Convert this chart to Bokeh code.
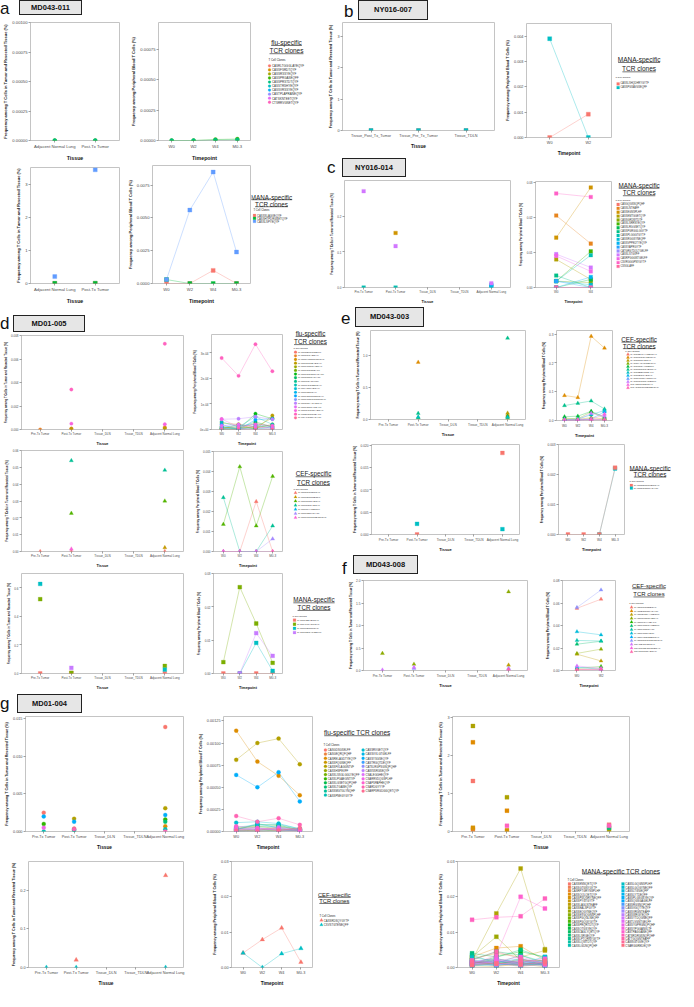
import math
from bokeh.plotting import figure
from bokeh.models import Range1d, FixedTicker, Div, Spacer
from bokeh.layouts import row, column
from bokeh.embed import file_html
from bokeh.resources import INLINE
from bokeh.core.properties import value

N = None
FONT = "Liberation Sans"

# ---------------- categories ----------------
timepoints = ["W0", "W2", "W4", "M0-3"]
timepoints_b = ["W0", "W2"]
timepoints_c = ["W0", "W4"]
timepoints_f = ["W0", "W2"]
tissues_a = ["Adjacent Normal Lung", "Post-Tx Tumor"]
tissues_b = ["Tissue_Post_Tx_Tumor", "Tissue_Pre_Tx_Tumor", "Tissue_TDLN"]
tissues_all = ["Pre-Tx Tumor", "Post-Tx Tumor", "Tissue_DLN", "Tissue_TDLN", "Adjacent Normal Lung"]

TISSUE_YLABEL = "Frequency among T Cells in Tumor and Resected Tissue (%)"
TIME_YLABEL = "Frequency among Peripheral Blood T Cells (%)"

# ---------------- a: MD043-011 ----------------
a_flu_clones = ["CASRLTGGGLAYEQYF", "CASSFSRDTQYF", "CASSRSSYEQYF", "CASSPRGASEQFF", "CASSPRSTDTQYF",
                "CASSTRSHYEQYF", "CASSVRSSYEQYF", "CASTPLAPRANEQYF", "CATSKNTEETQYF", "CTSRRVGNETQYF"]
a_flu_tissue = [N, N, N, [0.0, 0.0], [0.0, 0.0], N, N, N, N, N]
a_flu_time = [N, N, N, [0.0, 0.0, 0.000008, 0.000012], [0.0, 0.0, 0.000004, 0.000006], N, N, N, N, N]
a_mana_clones = ["CASSSLAGVEQYF", "CASSHTPDRGSETQYF", "CASSLSPYEQYF"]
a_mana_tissue = [[0.0, 0.0], [0.005, 0.01], [0.21, 3.45]]
a_mana_time = [[0.0, 0.0, 0.001, 0.0], [0.0003, 0.0, 0.0, 0.0], [0.0003, 0.0056, 0.0085, 0.0024]]
a1_ymax = 0.001
a1_yticks = [0.0, 0.00025, 0.0005, 0.00075, 0.001]
a1_ylabels = ["0.00000", "0.00025", "0.00050", "0.00075", "0.00100"]
a2_ymax = 0.00097
a2_yticks = [0.0, 0.00025, 0.0005, 0.00075]
a2_ylabels = ["0.00000", "0.00025", "0.00050", "0.00075"]
a3_ymax = 3.52
a3_yticks = [0, 1, 2, 3]
a3_ylabels = ["0", "1", "2", "3"]
a4_ymax = 0.009
a4_yticks = [0.0, 0.0025, 0.005, 0.0075]
a4_ylabels = ["0.0000", "0.0025", "0.0050", "0.0075"]

# ---------------- b: NY016-007 ----------------
b_mana_clones = ["CASSLSHQDHRYGYTF", "CASSPGSAVGSEQFF"]
b_mana_tissue = [[0.0, 0.0, 0.0], [0.0, 0.0, 0.0]]
b_mana_time = [[0.0, 0.00092], [0.0039, 0.0]]
b1_ymax = 3.45
b1_yticks = [0, 1, 2, 3]
b1_ylabels = ["0", "1", "2", "3"]
b2_ymax = 0.0045
b2_yticks = [0.0, 0.001, 0.002, 0.003, 0.004]
b2_ylabels = ["0.000", "0.001", "0.002", "0.003", "0.004"]

# ---------------- c: NY016-014 ----------------
c_mana_clones = ["CASGQGSNQPQHF", "CASSLNTEAFF", "CASSEGNSPLHF", "CASSEMTGGETQYF", "CASSGRDWTDTF",
                 "CASSLSRRNYEQYF", "CASSLRGGSETQYF", "CASSPGRGGLGGYTF", "CASSPLGGGTGYTF", "CASSRGGSYNEQFF",
                 "CASSVPPEDTYEQYF", "CASSYAPRGYTF", "CATGRGTDQLTGELFF", "CASSLSTGVFF", "CASRPGGGNTGELFF",
                 "CSVRGGGPNYGYTF", "CSSGLAFF"]
c_mana_tissue = [N, N, [N, 0.153, N, N, N], N, N, N, N, N, [0.0, 0.0, N, N, 0.005], [N, N, N, N, 0.002],
                 [N, N, N, N, 0.008], N, N, [0.27, 0.116, N, N, 0.012], N, N, N]
c_mana_time = [[0.0, 0.0], [0.0205, 0.0125], [0.0142, 0.0285], [0.008, 0.0023], [0.0018, 0.0014],
               [0.0018, 0.0103], [0.0, 0.0023], [0.0034, 0.0], [0.0018, 0.0092], [0.0018, 0.0008],
               [0.0, 0.003], [0.0018, 0.0], [0.0, 0.0], [0.0095, 0.0057], [0.009, 0.0046],
               [0.0268, 0.0258], [0.0, 0.0]]
c1_ymax = 0.30
c1_yticks = [0.0, 0.1, 0.2]
c1_ylabels = ["0.0", "0.1", "0.2"]
c2_ymax = 0.0302
c2_yticks = [0.0, 0.01, 0.02, 0.03]
c2_ylabels = ["0.00", "0.01", "0.02", "0.03"]

# ---------------- d: MD01-005 ----------------
d_flu_clones = ["CASSQDLNTGELFF", "CASRTGGYEQYF", "CASRNVGDRNQPQHF", "CASSLGGTEYEQYF", "CASSPTGQGYEQYF",
                "CASSPRGSGEAFF", "CASSPRGQGSYGYTF", "CASSQGNRYGYTF", "CASSLTGANVLTF", "CASSLLGQGETQYF",
                "CASSYSGLYEQYF", "CASSPRDTQYF", "CASSPGSGRTDTQYF", "CASSPTGGGSNQPQHF", "CASSQGLAGYEQYF",
                "CASSPGSGYTEAFF", "CASSLPGGSPYEQYF", "CATSDLGRGTEAFF", "CATSALGSNYGYTF"]
d_flu_tissue = [N, [0.0, 0.0001, N, N, 0.0002], N, [N, 0.00005, N, N, 0.0001], N, N, N, N, N, N,
                N, N, N, N, N, N, [N, 0.0005, N, N, 0.00045], [N, 0.0034, N, N, 0.0073], N]
d_flu_time = [[0.0, 0.0, 0.000010, 0.000005], [0.0, 0.0, 0.000025, 0.000010],
              [0.000010, 0.000005, 0.000010, 0.000015], [0.0, 0.000020, 0.0, 0.000055],
              [0.000025, 0.000020, 0.000010, 0.000045], [0.000005, 0.000010, 0.000005, 0.000020],
              [0.000010, 0.0, 0.000062, 0.000042], [0.0, 0.000005, 0.000030, 0.000010],
              [0.000005, 0.0, 0.000005, 0.0], [0.000030, 0.000010, 0.000050, 0.000020],
              [0.0, 0.0, 0.000015, 0.000005], [0.000010, 0.000015, 0.000020, 0.000010],
              [0.000020, 0.0, 0.000038, 0.000042], [0.000005, 0.000005, 0.0, 0.000010],
              [0.000040, 0.000042, 0.000050, 0.000040], [0.000015, 0.000020, 0.000010, 0.000005],
              [0.000041, 0.000010, 0.000020, 0.000015], [0.000280, 0.000210, 0.000334, 0.000228],
              [0.0, 0.0, 0.0, 0.0]]
d_cef_clones = ["CASRQGSTDTQYF", "CASSPDRGNEQFF", "CASSLGQNYEQYF", "CASSLRDGYEQYF", "CASSLGVHNEQFF",
                "CASSPRDLVGYTF", "CASSPPGQGGDQPQHF"]
d_cef_tissue = [[0.0, 0.0, N, N, 0.0], [N, N, N, N, 0.0023], [N, 0.0227, N, N, 0.030],
                [N, 0.054, N, N, 0.0483], N, N, [N, 0.0015, N, N, N]]
d_cef_time = [[0.0, 0.0, 0.0025, 0.0], N, [0.00136, 0.00424, 0.00128, 0.00376],
              [0.0027, 0.0, 0.0, 0.00128], N, [0.0, 0.0, 0.0, 0.00063], [0.0, 0.0, 0.0, 0.0]]
d_mana_clones = ["CASSPQEHETQYF", "CASSHLGYGPGHF", "CASSLLERGPGHF", "CASSLTDGYTGELFF"]
d_mana_tissue = [[0.0, 0.004, N, N, 0.0], [0.52, 0.005, N, N, 0.053], [0.627, N, N, N, 0.027],
                 [N, 0.04, N, N, N]]
d_mana_time = [[0.0, 0.0, 0.0, 0.0], [0.0034, 0.0259, 0.015, 0.0032], [N, 0.0, 0.0092, 0.0008],
               [N, 0.0, 0.0121, 0.0053]]
d1_ymax = 0.008
d1_yticks = [0.0, 0.002, 0.004, 0.006, 0.008]
d1_ylabels = ["0.000", "0.002", "0.004", "0.006", "0.008"]
d2_ymax = 0.000372
d2_yticks = [0.0, 0.0001, 0.0002, 0.0003]
d2_ylabels = ["0e+00", "1e-04", "2e-04", "3e-04"]
d3_ymax = 0.06
d3_yticks = [0.0, 0.01, 0.02, 0.03, 0.04, 0.05, 0.06]
d3_ylabels = ["0.00", "0.01", "0.02", "0.03", "0.04", "0.05", "0.06"]
d4_ymax = 0.005
d4_yticks = [0.0, 0.001, 0.002, 0.003, 0.004, 0.005]
d4_ylabels = ["0.000", "0.001", "0.002", "0.003", "0.004", "0.005"]
d5_ymax = 0.70
d5_yticks = [0.0, 0.2, 0.4, 0.6]
d5_ylabels = ["0.0", "0.2", "0.4", "0.6"]
d6_ymax = 0.03
d6_yticks = [0.0, 0.01, 0.02, 0.03]
d6_ylabels = ["0.00", "0.01", "0.02", "0.03"]

# ---------------- e: MD043-003 ----------------
e_cef_clones = ["CASSQDWAHGETQYF", "CASSPSGGVTETQYF", "CASSRQSYEQYF", "CASSLAGVGSETQYF", "CASSTRGAVNEQFF",
                "CASSPRSGGVETQYF", "CASSQEDLNTEAFF", "CASSPDGTYEQYF", "CASRPGGGYNSPLHF", "CASSPGGRSYNEQFF",
                "CSARDGTGDTQYF", "CSAGGGQPRDSEPQHF"]
e_cef_tissue = [N, [N, 0.894, N, N, 0.07], [N, N, N, N, 0.1], [N, N, N, N, 0.02], [N, 0.03, N, N, 0.05],
                [N, 0.095, N, N, 1.27], [N, 0.038, N, N, 0.035], N, N, N, N, N]
e_cef_time = [[0.0, 0.002, 0.005, 0.003], [0.087, 0.080, 0.293, 0.252], [0.005, 0.004, 0.01, 0.006],
              [0.008, 0.006, 0.03, 0.008], [0.013, 0.015, 0.032, 0.012], [0.052, 0.06, 0.068, 0.04],
              [0.003, 0.005, 0.02, 0.035], [0.002, 0.001, 0.006, 0.03], [0.001, 0.002, 0.003, 0.004],
              [0.003, 0.002, 0.025, 0.015], [0.001, 0.001, 0.004, 0.022], [0.0, 0.001, 0.002, 0.003]]
e_mana_clones = ["CASSQDRSGLETQYF", "CASSQGSGNYGYTF"]
e_mana_tissue = [[N, 0.0, N, N, 0.0183], [N, 0.0024, N, N, 0.0012]]
e_mana_time = [[0.0, 0.0, 0.0, 0.00223], [N, N, 0.0, 0.0022]]
e1_ymax = 1.39
e1_yticks = [0.0, 0.5, 1.0]
e1_ylabels = ["0.0", "0.5", "1.0"]
e2_ymax = 0.313
e2_yticks = [0.0, 0.1, 0.2, 0.3]
e2_ylabels = ["0.0", "0.1", "0.2", "0.3"]
e3_ymax = 0.0202
e3_yticks = [0.0, 0.005, 0.01, 0.015, 0.02]
e3_ylabels = ["0.000", "0.005", "0.010", "0.015", "0.020"]
e4_ymax = 0.003
e4_yticks = [0.0, 0.001, 0.002, 0.003]
e4_ylabels = ["0.000", "0.001", "0.002", "0.003"]

# ---------------- f: MD043-008 ----------------
f_cef_clones = ["CASSQTGRDEQYF", "CASSEGGRNYGYTF", "CASSLDQGAYNEQFF", "CASSLRQGRHEQYF", "CASSLLSVYTEAFF",
                "CASSPTGGSYNEQFF", "CASSPTGQGYTF", "CASSPTGQVDTF", "CASSLVGDQEETQYF", "CASRSRGGSGNQPQHF",
                "CSARDGTQNQYF", "CSVSGGDGRSNEGYF", "CSVQGGGTYEQYF"]
f_cef_tissue = [N, N, [N, N, N, N, 0.12], [0.38, 0.14, N, N, 1.75], N, N, N, N, N,
                [N, 0.05, N, N, 0.05], [0.01, 0.07, N, N, 0.03], N, [N, N, N, N, 0.02]]
f_cef_time = [[0.0553, 0.0634], [0.001, 0.0015], [0.0145, 0.0085], [0.0152, 0.019], [0.002, 0.0035],
              [0.0234, 0.026], [0.0267, 0.0262], [0.0345, 0.0317], [0.003, 0.001], [0.056, 0.0716],
              [0.004, 0.002], [0.001, 0.0005], [0.0005, 0.001]]
f1_ymax = 2.0
f1_yticks = [0.0, 0.5, 1.0, 1.5, 2.0]
f1_ylabels = ["0.0", "0.5", "1.0", "1.5", "2.0"]
f2_ymax = 0.08
f2_yticks = [0.0, 0.02, 0.04, 0.06, 0.08]
f2_ylabels = ["0.00", "0.02", "0.04", "0.06", "0.08"]

# ---------------- g: MD01-004 ----------------
g_flu_clones = ["CASGDSGSELFF", "CASGEQRQFQHF", "CASRELAGDTYEQYF", "CASSFQGNEQFF", "CASSFVLAGGNTVF",
                "CASSHSPEVFF", "CASSLSSGLGGLYEQFF", "CASSLPGAEGNTIYF", "CASSLGSETGQPQHF", "CASSLTGASEQYF",
                "CASSMGTGLYNQHF", "CASSPNEGYGYTF", "CASSRVGETQYF", "CASSVVLGTGELFF", "CASSYSGSEQYF",
                "CASTRGQTDEQYF", "CATSLRGPSGNQPQHF", "CAWSSRGSEQYF", "CSALEGGHEQYF", "CSARRVDQGSPLHF",
                "CSAPSPAPHEQYF", "CSARDGYYYF", "CSARPSRGDGGQETQYF"]
g_flu_tissue = [[0.0025, 0.0004, N, N, 0.0139], N, [N, N, N, N, 0.0007], N, [N, 0.0017, N, N, 0.0031],
                N, N, [0.001, N, N, N, 0.0016], N, [N, 0.0002, N, N, 0.0013], N, [0.0, 0.0002, N, N, 0.0003],
                N, N, [0.002, 0.0013, N, N, 0.0022], N, N, N, N, [0.0005, N, N, N, N], N,
                [N, 0.0003, N, N, 0.0], N]
g_flu_time = [[0.00002, 0.00004, 0.00001, 0.0], [0.00001, 0.00002, 0.00003, 0.00001],
              [0.00114, 0.00079, 0.00063, 0.00041], [0.00003, 0.00001, 0.00005, 0.00002],
              [0.00081, 0.001, 0.00105, 0.00076], [0.0, 0.00002, 0.00001, 0.00003],
              [0.00004, 0.00006, 0.00003, 0.00001], [0.00002, 0.00008, 0.00007, 0.00002],
              [0.00001, 0.0, 0.00002, 0.00001], [0.00003, 0.00005, 0.00006, 0.00002],
              [0.0, 0.00001, 0.0, 0.00002], [0.00005, 0.00007, 0.00008, 0.00003],
              [0.0001, 0.00011, 0.00009, 0.00003], [0.00002, 0.00009, 0.00004, 0.00001],
              [0.00064, 0.0005, 0.00067, 0.00034], [0.00001, 0.00003, 0.00002, 0.0],
              [0.00004, 0.00002, 0.00005, 0.00002], [0.00002, 0.00004, 0.00001, 0.00003],
              [0.0, 0.00001, 0.00003, 0.00001], [0.00003, 0.00002, 0.00004, 0.00002],
              [0.00006, 0.00004, 0.00002, 0.00001], [0.000175, 0.00011, 0.00015, 0.000075],
              [0.00001, 0.0, 0.00001, 0.00004]]
g_cef_clones = ["CASSRDSQYGYTF", "CSVSTGTENEQFF"]
g_cef_tissue = [[N, 0.0197, N, N, 0.239], [0.0, 0.0, N, N, 0.0]]
g_cef_time = [[0.0041, 0.0079, 0.0112, 0.0015], [0.0041, 0.0, 0.0039, 0.0054]]
g_mana_clones = ["CASSENNQETQYF", "CASSGTGNYGYTF", "CASRPTGRYNSPLHF", "CASSQQLQETQYF", "CASSPGQGRYNEQFF",
                 "CASSPYGTGYTF", "CASSLAGLNTEAFF", "CASSEALSPGYTF", "CASSEQGYNEQYF", "CASSEVGQGNSPLHF",
                 "CASSPGQGLNEQFF", "CASSPGQGYGYTF", "CASSPRQRTDTQYF", "CASSQTGSYEQYF", "CASSLAGLYQETQYF",
                 "CASSLSRGEQYF", "CASSLPTQRNYGYTF", "CASSLQWTDTQYF", "CASSLGDNQPQHF", "CASSLGQGNSPLHF",
                 "CASSLGQGYNEQFF", "CASSLTGGEQFF", "CASSLYTDEQFF", "CASSPLGSGSYEQYF", "CASSQGSGAGELFF",
                 "CASSRGSNQPQHF", "CASSVGQTYEQYF", "CASSVRGNTEAFF", "CASSWRGYEQYF", "CASSYTDQGNEQFF",
                 "CASTLVGNTGELFF", "CASSYGPRGNQPQHF", "CASSYPGGANVLTF", "CASTPAGGANEQFF", "CATSRDRGSNQPQHF",
                 "CATTGQGNTEAFF", "CAWSGTGVEQYF", "CSARGGREDEQYF"]
g_mana_tissue = [[1.33, N, N, N, 0.18], N, [0.05, N, N, N, N], [2.35, 0.55, N, N, N], [0.1, 0.03, N, N, N],
                 N, N, [2.78, 0.9, N, N, 0.05], N, N, N, N, N, N, N, [N, N, N, N, 0.1], N, N, N, N,
                 N, N, N, N, N, N, N, N, N, N, N, N, N, N, [N, 0.15, N, N, 0.15], N, N, N]
g_mana_time = [[0.0015, 0.0005, 0.0012, 0.0008], [0.0008, 0.0012, 0.0003, 0.0010],
               [0.0020, 0.0010, 0.0015, 0.0005], [0.0030, 0.0055, 0.0060, 0.0020],
               [0.0012, 0.0020, 0.0008, 0.0015], [0.0005, 0.0003, 0.0010, 0.0002],
               [0.0025, 0.0040, 0.0030, 0.0048], [0.0020, 0.0153, 0.0280, 0.0052],
               [0.0030, 0.0087, 0.0020, 0.0020], [0.0010, 0.0025, 0.0012, 0.0010],
               [0.0018, 0.0008, 0.0025, 0.0006], [0.0008, 0.0015, 0.0005, 0.0012],
               [0.0010, 0.0030, 0.0045, 0.0030], [0.0015, 0.0012, 0.0020, 0.0008],
               [0.0022, 0.0045, 0.0035, 0.0015], [0.0040, 0.0030, 0.0050, 0.0027],
               [0.0035, 0.0012, 0.0035, 0.0010], [0.0012, 0.0020, 0.0010, 0.0018],
               [0.0006, 0.0010, 0.0020, 0.0005], [0.0028, 0.0018, 0.0008, 0.0022],
               [0.0010, 0.0005, 0.0015, 0.0008], [0.0016, 0.0025, 0.0012, 0.0030],
               [0.0004, 0.0010, 0.0006, 0.0012], [0.0020, 0.0015, 0.0025, 0.0010],
               [0.0015, 0.0010, 0.0008, 0.0012], [0.0008, 0.0020, 0.0010, 0.0005],
               [0.0012, 0.0006, 0.0018, 0.0015], [0.0018, 0.0012, 0.0005, 0.0008],
               [0.0010, 0.0015, 0.0020, 0.0006], [0.0020, 0.0010, 0.0012, 0.0018],
               [0.0015, 0.0025, 0.0010, 0.0012], [0.0008, 0.0018, 0.0030, 0.0010],
               [0.0012, 0.0020, 0.0015, 0.0025], [0.0010, 0.0034, 0.0200, 0.0167],
               [0.0135, 0.0142, 0.0145, 0.0195], [0.0020, 0.0045, 0.0025, 0.0010],
               [0.0015, 0.0010, 0.0018, 0.0020], [0.0006, 0.0012, 0.0008, 0.0015]]
g1_ymax = 0.0153
g1_yticks = [0.0, 0.005, 0.01, 0.015]
g1_ylabels = ["0.000", "0.005", "0.010", "0.015"]
g2_ymax = 0.0013
g2_yticks = [0.0, 0.00025, 0.0005, 0.00075, 0.001, 0.00125]
g2_ylabels = ["0.00000", "0.00025", "0.00050", "0.00075", "0.00100", "0.00125"]
g3_ymax = 3.03
g3_yticks = [0, 1, 2, 3]
g3_ylabels = ["0", "1", "2", "3"]
g4_ymax = 0.275
g4_yticks = [0.0, 0.1, 0.2]
g4_ylabels = ["0.0", "0.1", "0.2"]
g5_ymax = 0.03
g5_yticks = [0.0, 0.01, 0.02, 0.03]
g5_ylabels = ["0.00", "0.01", "0.02", "0.03"]
g6_ymax = 0.03
g6_yticks = [0.0, 0.01, 0.02, 0.03]
g6_ylabels = ["0.00", "0.01", "0.02", "0.03"]


# ---------------- helpers ----------------
def hcl_hex(h, c=100.0, l=65.0):
    wu, wv = 0.1978398, 0.4683363
    hr = math.radians(h)
    U = c * math.cos(hr)
    V = c * math.sin(hr)
    Y = 100.0 * ((l + 16.0) / 116.0) ** 3
    u = U / (13.0 * l) + wu
    v = V / (13.0 * l) + wv
    X = 9.0 * Y * u / (4.0 * v)
    Z = -X / 3.0 - 5.0 * Y + 3.0 * Y / v
    x, y, z = X / 100.0, Y / 100.0, Z / 100.0
    rgb = [3.240479 * x - 1.537150 * y - 0.498535 * z,
           -0.969256 * x + 1.875992 * y + 0.041556 * z,
           0.055648 * x - 0.204043 * y + 1.057311 * z]
    out = []
    for t in rgb:
        t = 1.055 * t ** (1 / 2.4) - 0.055 if t > 0.0031308 else 12.92 * t
        out.append(int(round(max(0.0, min(1.0, t)) * 255)))
    return "#%02x%02x%02x" % tuple(out)


def hue_pal(n):
    return [hcl_hex(15 + 360.0 * i / n) for i in range(n)]


def MX(rx):
    return max(0, int(round((rx - 5) * 0.99)))


def MY(ry):
    return max(0, int(round((ry - 3) * 0.99)))


CW = {'f': .278, 'i': .222, 'j': .222, 'l': .222, 't': .278, 'r': .333, '-': .333, ' ': .278, '.': .278,
      'I': .278, 'm': .833, 'w': .722, 'M': .833, 'W': .944, 'C': .722, 'R': .722, 'A': .667, 'N': .722,
      'T': .611, 'S': .667, 'E': .667, 'F': .611, 'P': .667, 'Q': .778, 'G': .778, 'H': .722, 'D': .722,
      'O': .778, 'V': .667, 'Y': .667, 'K': .667, 'L': .556, 's': .5, 'c': .5, 'k': .5, 'v': .5, 'x': .5,
      'y': .5, 'z': .5}


def text_w(s, size):
    return sum(CW.get(ch, 0.556) for ch in s) * size


items = []


def add(model, rect):
    x0, y0, x1, y1 = rect
    items.append((model, MX(x0), MY(y0), MX(x1), MY(y1)))


def base_fig(canvas, frame, cats, ymax, yticks, ylabels, xtitle, ytitle, fs):
    cx0, cy0, cx1, cy1 = canvas
    fx0, fy0, fx1, fy1 = frame
    X0, Y0, X1, Y1 = MX(cx0), MY(cy0), MX(cx1), MY(cy1)
    n = len(cats)
    p = figure(width=X1 - X0, height=Y1 - Y0, x_range=Range1d(0.4, n + 0.6), y_range=Range1d(0, ymax),
               min_border_left=MX(fx0) - X0, min_border_right=X1 - MX(fx1),
               min_border_top=MY(fy0) - Y0, min_border_bottom=Y1 - MY(fy1),
               toolbar_location=None, output_backend="svg", title=None)
    p.grid.visible = False
    p.outline_line_color = "#c4c4c4"
    p.outline_line_width = 1
    p.background_fill_color = "white"
    p.border_fill_color = "white"
    for ax in (p.xaxis[0], p.yaxis[0]):
        ax.axis_line_color = None
        ax.major_tick_line_color = "#444444"
        ax.major_tick_line_width = 0.5
        ax.major_tick_out = 2
        ax.major_tick_in = 0
        ax.minor_tick_line_color = None
        ax.major_label_text_font = FONT
        ax.major_label_text_font_size = "%.2fpx" % fs
        ax.major_label_text_color = "#4d4d4d"
        ax.major_label_standoff = 1
        ax.axis_label_text_font = FONT
        ax.axis_label_text_font_style = "bold"
        ax.axis_label_text_color = "#111111"
    p.xaxis.ticker = FixedTicker(ticks=list(range(1, n + 1)))
    p.xaxis.major_label_overrides = {i + 1: c for i, c in enumerate(cats)}
    p.yaxis.ticker = FixedTicker(ticks=yticks)
    p.yaxis.major_label_overrides = {t: s for t, s in zip(yticks, ylabels)}
    p.xaxis.axis_label = xtitle
    p.xaxis.axis_label_text_font_size = "%.2fpx" % (fs * 1.25)
    p.xaxis.axis_label_standoff = 3
    fh = MY(fy1) - MY(fy0)
    ys = fs * 0.95
    if text_w(ytitle, ys * 1.05) > fh + 12:
        ys = (fh + 12) / (text_w(ytitle, 1.05))
    p.yaxis.axis_label = ytitle
    p.yaxis.axis_label_text_font_size = "%.2fpx" % ys
    p.yaxis.axis_label_standoff = 1
    return p


def tissue_panel(canvas, frame, cats, data, colors, marker, msize, ymax, yticks, ylabels, fs):
    p = base_fig(canvas, frame, cats, ymax, yticks, ylabels, "Tissue", TISSUE_YLABEL, fs)
    for vals, col in zip(data, colors):
        if vals is None:
            continue
        xs = [i + 1 for i, v in enumerate(vals) if v is not None]
        ys = [v for v in vals if v is not None]
        p.scatter(xs, ys, marker=marker, size=msize, fill_color=col, line_color=col, line_width=0.3)
    add(p, canvas)


def time_panel(canvas, frame, cats, data, colors, marker, msize, ymax, yticks, ylabels, fs, reverse=False):
    p = base_fig(canvas, frame, cats, ymax, yticks, ylabels, "Timepoint", TIME_YLABEL, fs)
    pairs = list(zip(data, colors))
    if reverse:
        pairs = pairs[::-1]
    for vals, col in pairs:
        if vals is None:
            continue
        p.line([i + 1 for i in range(len(vals))], [float("nan") if v is None else v for v in vals],
               line_color=col, line_width=0.6, line_alpha=0.55)
    for vals, col in pairs:
        if vals is None:
            continue
        xs = [i + 1 for i, v in enumerate(vals) if v is not None]
        ys = [v for v in vals if v is not None]
        p.scatter(xs, ys, marker=marker, size=msize, fill_color=col, line_color=col, line_width=0.3)
    add(p, canvas)


def legend_panel(rect, heading, cx, hy, gap, hs, tx, ty, ey0, dy, mx0, names, colors, marker, lab,
                 msize=2.8, ncols=1, col_dx=0.0):
    x0, y0, x1, y1 = rect
    p = figure(width=MX(x1) - MX(x0), height=MY(y1) - MY(y0), x_range=Range1d(x0, x1),
               y_range=Range1d(y1, y0), min_border=0, x_axis_type=None, y_axis_type=None,
               toolbar_location=None, output_backend="svg", title=None)
    p.outline_line_color = None
    p.grid.visible = False
    hys = [hy + k * gap for k in range(len(heading))]
    p.text(x=[cx] * len(heading), y=hys, text=heading, text_font=value(FONT),
           text_font_size="%.2fpx" % hs, text_align="center", text_baseline="middle", text_color="#1a1a1a")
    ws = [text_w(s, hs) for s in heading]
    p.segment(x0=[cx - w / 2 for w in ws], y0=[y + hs * 0.52 for y in hys],
              x1=[cx + w / 2 for w in ws], y1=[y + hs * 0.52 for y in hys],
              line_color="#1a1a1a", line_width=0.6)
    p.text(x=[tx], y=[ty], text=["T Cell Clones"], text_font=value(FONT),
           text_font_size="%.2fpx" % (lab * 0.95), text_align="left", text_baseline="middle",
           text_color="#222222")
    rows = int(math.ceil(len(names) / float(ncols)))
    xs = [mx0 + (i // rows) * col_dx for i in range(len(names))]
    ys = [ey0 + (i % rows) * dy for i in range(len(names))]
    p.scatter(xs, ys, marker=marker, size=msize, fill_color=colors, line_color=colors, line_width=0.2)
    p.text(x=[x + 2.4 for x in xs], y=ys, text=names, text_font=value(FONT),
           text_font_size="%.2fpx" % lab, text_align="left", text_baseline="middle", text_color="#333333")
    add(p, rect)


def header(rect, letter, lx, lbase, box, label):
    x0, y0, x1, y1 = rect
    W = MX(x1) - MX(x0)
    H = MY(y1) - MY(y0)
    fsz = 17
    left = MX(lx) - MX(x0)
    top = MY(lbase) - MY(y0) - 14
    top = max(0, min(H - fsz, top))
    bx0, by0, bx1, by1 = box
    bl = MX(bx0) - MX(x0)
    bt = MY(by0) - MY(y0)
    bw = MX(bx1) - MX(bx0)
    bh = MY(by1) - MY(by0)
    html = ('<div style="position:relative;width:%dpx;height:%dpx;">'
            '<div style="position:absolute;left:%dpx;top:%dpx;font-family:\'%s\';font-size:%dpx;'
            'line-height:%dpx;height:%dpx;color:#111;">%s</div>'
            '<div style="position:absolute;left:%dpx;top:%dpx;width:%dpx;height:%dpx;box-sizing:border-box;'
            'border:1px solid #222;background:#e6e6e6;font-family:\'%s\';font-weight:bold;font-size:7.5px;'
            'line-height:%dpx;text-align:center;color:#111;">%s</div></div>'
            % (W, H, left, top, FONT, fsz, fsz, fsz, letter, bl, bt, bw, bh, FONT, bh - 2, label))
    add(Div(text=html, width=W, height=H, margin=0), rect)


# ---------------- build panels ----------------
# a
ca_flu = hue_pal(len(a_flu_clones))
ca_mana = hue_pal(len(a_mana_clones))
header((5, 3, 95, 21), "a", 5, 16, (24, 3, 88, 18), "MD043-011")
tissue_panel((5, 21, 130, 168), (29, 25, 126, 148), tissues_a, a_flu_tissue, ca_flu, "circle", 4,
             a1_ymax, a1_yticks, a1_ylabels, 4.2)
time_panel((130, 21, 261, 168), (165, 25, 258, 148), timepoints, a_flu_time, ca_flu, "circle", 4,
           a2_ymax, a2_yticks, a2_ylabels, 4.2)
legend_panel((261, 21, 328, 168), ["flu-specific", "TCR clones"], 294, 45, 8.3, 6.5, 276, 62.7, 69, 4.1,
             277, a_flu_clones, ca_flu, "circle", 3.0)
tissue_panel((5, 168, 130, 312), (25, 172, 125, 293), tissues_a, a_mana_tissue, ca_mana, "square", 4,
             a3_ymax, a3_yticks, a3_ylabels, 4.2)
time_panel((130, 168, 259, 312), (157, 170, 258, 293), timepoints, a_mana_time, ca_mana, "square", 4,
           a4_ymax, a4_yticks, a4_ylabels, 4.2)
legend_panel((259, 168, 328, 312), ["MANA-specific", "TCR clones"], 279, 206.5, 8.5, 6.3, 261, 222.5,
             229, 3.6, 262, a_mana_clones, ca_mana, "square", 2.8)

# b
cb = hue_pal(len(b_mana_clones))
header((340, 3, 445, 23), "b", 352, 22.5, (367, 3, 437, 23), "NY016-007")
tissue_panel((328, 23, 512, 156), (350, 25, 504, 138), tissues_b, b_mana_tissue, cb, "square", 4,
             b1_ymax, b1_yticks, b1_ylabels, 3.8)
time_panel((512, 23, 623, 163), (536, 26, 622, 147), timepoints_b, b_mana_time, cb, "square", 4,
           b2_ymax, b2_yticks, b2_ylabels, 3.8)
legend_panel((623, 23, 690, 163), ["MANA-specific", "TCR clones"], 650, 62.2, 9.5, 6.5, 626, 81,
             87.3, 3.7, 628.7, b_mana_clones, cb, "square", 2.6)

# c
cc = hue_pal(len(c_mana_clones))
header((330, 163, 420, 183), "c", 335, 178, (350, 163, 415, 182), "NY016-014")
tissue_panel((328, 183, 525, 312), (352, 185, 520, 293), tissues_all, c_mana_tissue, cc, "square", 3.6,
             c1_ymax, c1_yticks, c1_ylabels, 3.0)
time_panel((525, 163, 623, 312), (545, 186, 622, 293), timepoints_c, c_mana_time, cc, "square", 3.6,
           c2_ymax, c2_yticks, c2_ylabels, 3.0)
legend_panel((623, 163, 690, 312), ["MANA-specific", "TCR clones"], 650, 189.7, 7.5, 6.3, 626, 204.7,
             209.3, 3.9, 628.7, c_mana_clones, cc, "square", 2.6)

# d
cd_flu = hue_pal(len(d_flu_clones))
cd_cef = hue_pal(len(d_cef_clones))
cd_mana = hue_pal(len(d_mana_clones))
header((5, 318, 95, 338), "d", 3, 335, (18, 321, 91, 338), "MD01-005")
tissue_panel((5, 338, 192, 456), (25, 341, 190, 441), tissues_all, d_flu_tissue, cd_flu, "circle", 3.4,
             d1_ymax, d1_yticks, d1_ylabels, 3.0)
time_panel((192, 338, 292, 456), (218, 340, 290, 441), timepoints, d_flu_time, cd_flu, "circle", 3.4,
           d2_ymax, d2_yticks, d2_ylabels, 3.0)
legend_panel((292, 318, 348, 456), ["flu-specific", "TCR clones"], 318, 339, 8.3, 6.3, 301, 354,
             358.3, 3.7, 303, d_flu_clones, cd_flu, "circle", 2.5)
tissue_panel((5, 456, 192, 579), (25, 458, 190, 563), tissues_all, d_cef_tissue, cd_cef, "triangle", 4,
             d3_ymax, d3_yticks, d3_ylabels, 3.0)
time_panel((192, 456, 292, 579), (220, 459, 290, 564), timepoints, d_cef_time, cd_cef, "triangle", 4,
           d4_ymax, d4_yticks, d4_ylabels, 3.0)
legend_panel((292, 456, 348, 579), ["CEF-specific", "TCR clones"], 321, 481.2, 8.8, 6.3, 301, 496.7,
             500.7, 4.17, 303, d_cef_clones, cd_cef, "triangle", 2.5, msize=3.2)
tissue_panel((5, 579, 192, 702), (25, 582, 191, 686), tissues_all, d_mana_tissue, cd_mana, "square", 3.8,
             d5_ymax, d5_yticks, d5_ylabels, 3.0)
time_panel((192, 579, 292, 702), (220, 582, 290, 685), timepoints, d_mana_time, cd_mana, "square", 3.8,
           d6_ymax, d6_yticks, d6_ylabels, 3.0)
legend_panel((292, 579, 348, 702), ["MANA-specific", "TCR clones"], 321.5, 608.3, 7.7, 6.3, 300, 625,
             629, 4.2, 302, d_mana_clones, cd_mana, "square", 2.5)

# e
ce_cef = hue_pal(len(e_cef_clones))
ce_mana = hue_pal(len(e_mana_clones))
header((348, 312, 440, 334), "e", 349, 330, (364, 313, 433, 333), "MD043-003")
tissue_panel((348, 334, 540, 447), (379, 336, 535, 434), tissues_all, e_cef_tissue, ce_cef, "triangle", 4,
             e1_ymax, e1_yticks, e1_ylabels, 3.2)
time_panel((540, 334, 624, 448), (567, 336, 623, 434), timepoints, e_cef_time, ce_cef, "triangle", 4,
           e2_ymax, e2_yticks, e2_ylabels, 3.2)
legend_panel((624, 334, 690, 448), ["CEF-specific", "TCR clones"], 650, 345.5, 8.2, 6.3, 636, 360.7,
             364.3, 3.85, 638.7, e_cef_clones, ce_cef, "triangle", 2.5, msize=3.2)
tissue_panel((348, 448, 540, 564), (380, 451, 529, 550), tissues_all, e_mana_tissue, ce_mana, "square", 3.8,
             e3_ymax, e3_yticks, e3_ylabels, 3.2)
time_panel((540, 448, 636, 564), (569, 451, 635, 550), timepoints, e_mana_time, ce_mana, "square", 3.8,
           e4_ymax, e4_yticks, e4_ylabels, 3.2, reverse=True)
legend_panel((636, 448, 690, 564), ["MANA-specific", "TCR clones"], 661, 478.3, 8.4, 6.3, 640, 496,
             500.7, 3.5, 642, e_mana_clones, ce_mana, "square", 2.5)

# f
cf = hue_pal(len(f_cef_clones))
header((348, 564, 440, 586), "f", 350, 585, (362, 564, 427, 583), "MD043-008")
tissue_panel((348, 586, 545, 701), (372, 589, 537, 685), tissues_all, f_cef_tissue, cf, "triangle", 4,
             f1_ymax, f1_yticks, f1_ylabels, 3.2)
time_panel((545, 586, 627, 701), (573, 589, 626, 685), timepoints_f, f_cef_time, cf, "triangle", 3.8,
           f2_ymax, f2_yticks, f2_ylabels, 3.2)
legend_panel((627, 586, 690, 701), ["CEF-specific", "TCR clones"], 660, 594.2, 8.3, 6.0, 640, 611.7,
             616, 3.75, 642.3, f_cef_clones, cf, "triangle", 2.5, msize=3.2)

# g
cg_flu = hue_pal(len(g_flu_clones))
cg_cef = hue_pal(len(g_cef_clones))
cg_mana = hue_pal(len(g_mana_clones))
header((5, 702, 95, 724), "g", 3, 719, (22, 704, 88, 723), "MD01-004")
tissue_panel((5, 724, 196, 864), (30, 726, 190, 846), tissues_all, g_flu_tissue, cg_flu, "circle", 4,
             g1_ymax, g1_yticks, g1_ylabels, 3.8)
time_panel((196, 724, 322, 864), (230, 726, 320, 846), timepoints, g_flu_time, cg_flu, "circle", 4,
           g2_ymax, g2_yticks, g2_ylabels, 3.8)
legend_panel((322, 724, 445, 864), ["flu-specific TCR clones"], 365, 744, 0, 6.5, 331, 759.3,
             764.7, 5.0, 333, g_flu_clones, cg_flu, "circle", 2.8, msize=3.0, ncols=2, col_dx=38)
tissue_panel((445, 724, 645, 864), (462, 726, 640, 843), tissues_all, g_mana_tissue, cg_mana, "square", 4,
             g3_ymax, g3_yticks, g3_ylabels, 3.8)
tissue_panel((5, 864, 196, 1003), (33, 873, 190, 980), tissues_all, g_cef_tissue, cg_cef, "triangle", 4.5,
             g4_ymax, g4_yticks, g4_ylabels, 3.8)
time_panel((196, 864, 322, 1003), (238, 873, 320, 986), timepoints, g_cef_time, cg_cef, "triangle", 4.5,
           g5_ymax, g5_yticks, g5_ylabels, 3.8)
legend_panel((322, 864, 445, 1003), ["CEF-specific", "TCR clones"], 342, 908, 8, 5.8, 327, 936,
             941, 6.0, 329, g_cef_clones, cg_cef, "triangle", 2.8, msize=3.4)
time_panel((445, 864, 575, 1003), (463, 870, 570, 986), timepoints, g_mana_time, cg_mana, "square", 4,
           g6_ymax, g6_yticks, g6_ylabels, 3.8)
legend_panel((575, 864, 690, 1003), ["MANA-specific TCR clones"], 632, 877, 0, 6.5, 578, 889.3,
             893.3, 4.48, 580, g_mana_clones, cg_mana, "square", 2.8, ncols=2, col_dx=54)


# ---------------- absolute layout via guillotine cuts ----------------
def split(its, lo, hi):
    s = sorted(its, key=lambda t: t[lo])
    groups, cur, end = [], [], None
    for t in s:
        if cur and t[lo] >= end:
            groups.append(cur)
            cur, end = [], None
        cur.append(t)
        end = t[hi] if end is None else max(end, t[hi])
    groups.append(cur)
    return groups


def place(its, x0, y0, x1, y1):
    W, H = x1 - x0, y1 - y0
    if len(its) == 1:
        m, a, b, c, d = its[0]
        mid = [m]
        if a > x0:
            mid.insert(0, Spacer(width=a - x0, height=d - b, margin=0))
        if x1 > c:
            mid.append(Spacer(width=x1 - c, height=d - b, margin=0))
        core = row(*mid) if len(mid) > 1 else m
        kids = []
        if b > y0:
            kids.append(Spacer(width=W, height=b - y0, margin=0))
        kids.append(core)
        if y1 > d:
            kids.append(Spacer(width=W, height=y1 - d, margin=0))
        return column(*kids) if len(kids) > 1 else core
    g = split(its, 2, 4)
    if len(g) > 1:
        kids = []
        for i, grp in enumerate(g):
            top = y0 if i == 0 else min(t[2] for t in grp)
            bot = y1 if i == len(g) - 1 else min(t[2] for t in g[i + 1])
            kids.append(place(grp, x0, top, x1, bot))
        return column(*kids)
    g = split(its, 1, 3)
    if len(g) > 1:
        kids = []
        for i, grp in enumerate(g):
            lft = x0 if i == 0 else min(t[1] for t in grp)
            rgt = x1 if i == len(g) - 1 else min(t[1] for t in g[i + 1])
            kids.append(place(grp, lft, y0, rgt, y1))
        return row(*kids)
    raise ValueError("overlapping items")


layout = place(items, 0, 0, MX(690), MY(1003))
open("out.html", "w").write(file_html(layout, INLINE, "TCR clone frequencies"))
